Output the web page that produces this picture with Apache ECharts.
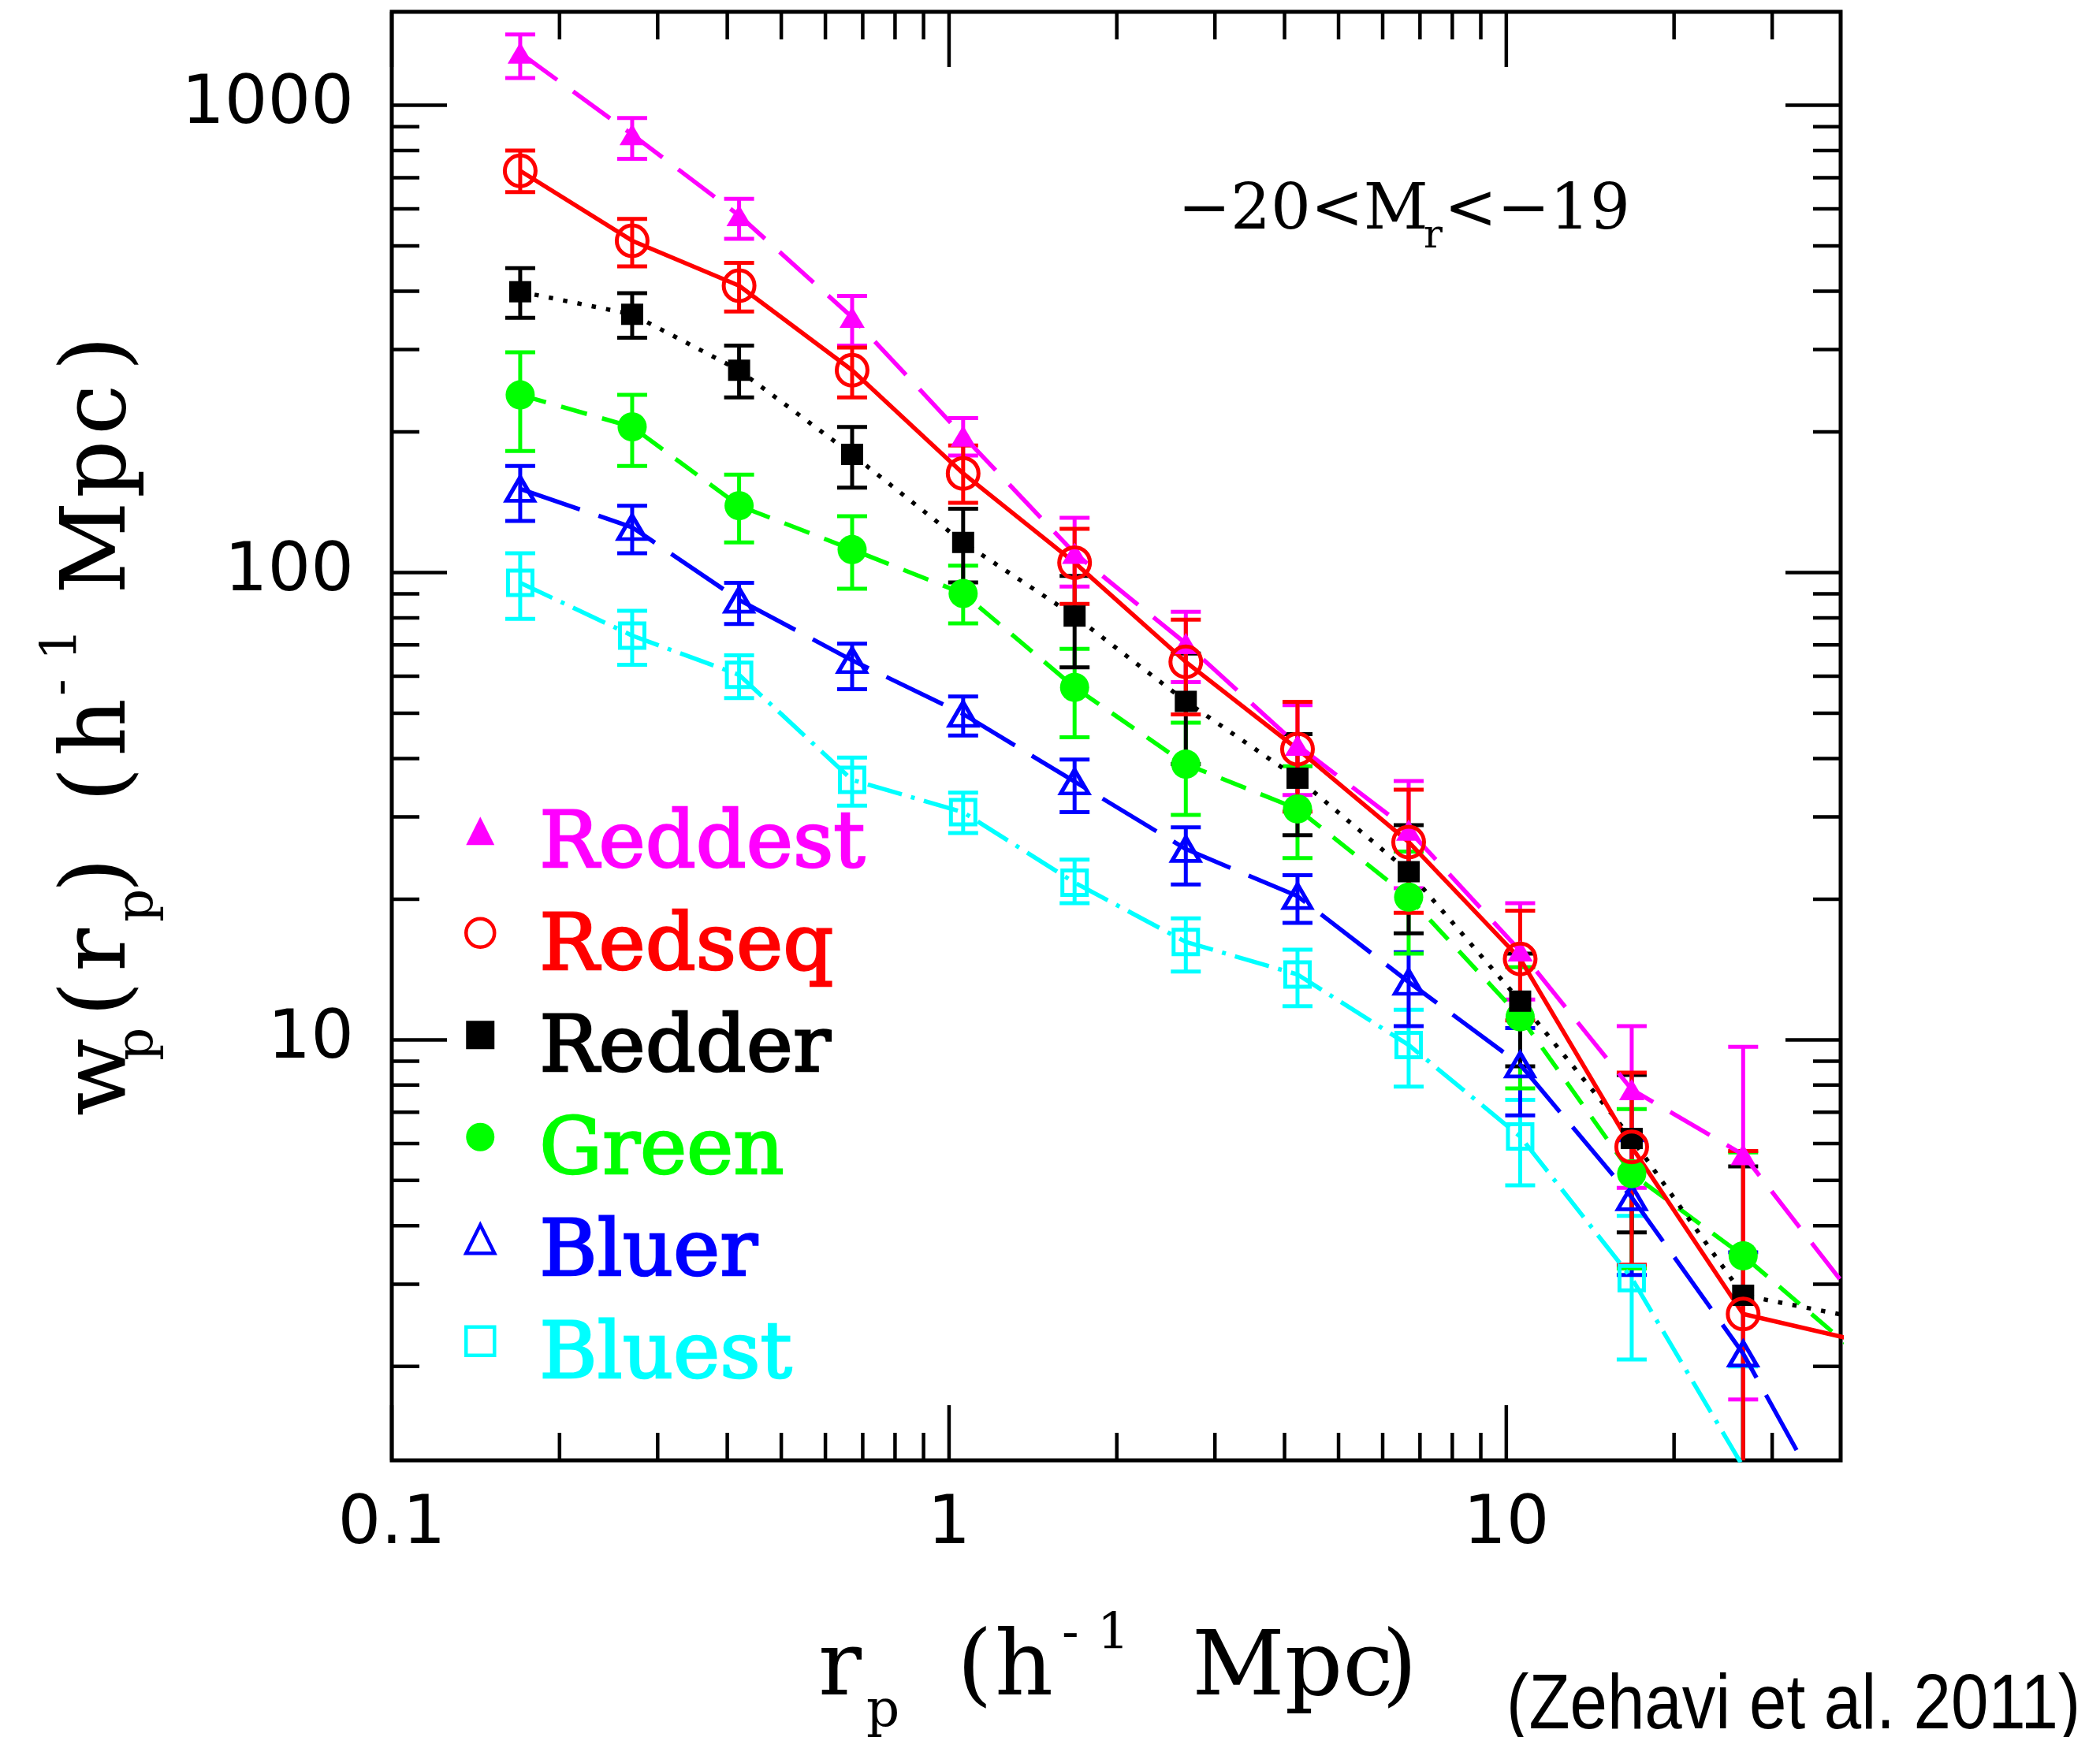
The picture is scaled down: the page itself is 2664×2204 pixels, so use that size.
<!DOCTYPE html>
<html><head><meta charset="utf-8">
<script src="https://cdn.jsdelivr.net/npm/echarts@6/dist/echarts.min.js"></script>
<style>html,body{margin:0;padding:0;background:#fff}#c{width:2664px;height:2204px}</style>
</head><body><div id="c"></div>
<script>
// ---------------- data ----------------
const rp = [0.17, 0.27, 0.42, 0.67, 1.06, 1.68, 2.66, 4.22, 6.68, 10.59, 16.79, 26.61, 42.17];

const reddest   = [1294, 866, 581, 352, 196, 110, 70.5, 42.7, 28.1, 15.5, 7.83, 5.68, 2.8];
const reddestHi = [1417, 939, 631, 391, 214, 131, 82.4, 52, 35.8, 19.6, 10.7, 9.66, null];
const reddestLo = [1144, 768, 518, 306, 178, 93.3, 58.3, 33.4, 21.1, 12.2, 4.82, 1.70, null];

const redseq   = [724, 513, 411, 271, 163, 105, 64.4, 41.9, 26.5, 14.9, 5.90, 2.59, 2.28];
const redseqHi = [800, 571, 460, 303, 187, 124, 79.3, 52.9, 34.3, 18.9, 8.51, 5.78, null];
const redseqLo = [652, 452, 362, 237, 141, 85.7, 49.7, 30.8, 18.7, 11.0, 3.30, 0.5, null];

const redder   = [399, 357, 271, 179, 116, 80.7, 53.0, 36.3, 22.9, 12.1, 6.15, 2.84, 2.55];
const redderHi = [448, 396, 306, 205, 137, 98.4, 67.1, 45.1, 28.8, 15.3, 8.41, 5.36, null];
const redderLo = [351, 318, 237, 152, 95.3, 62.7, 38.9, 27.4, 16.9, 8.78, 3.87, 0.4, null];

const green   = [240, 205, 139, 112, 90.2, 56.8, 38.9, 31.2, 20.2, 11.2, 5.17, 3.45, 2.16];
const greenHi = [296, 240, 162, 132, 103.5, 68.7, 47.7, 38.5, 25.3, 14.3, 7.11, 5.74, null];
const greenLo = [182, 169, 116, 92.3, 77.8, 44.4, 30.3, 24.5, 15.3, 7.87, 3.24, 1.1, null];

const bluer   = [151, 125, 87.4, 64.9, 49.8, 35.7, 25.6, 20.3, 13.3, 8.85, 4.6, 2.13, 0.79];
const bluerHi = [169, 139, 95.1, 70.4, 54.3, 39.8, 28.5, 22.5, 15.4, 10.6, 6.1, 3.51, null];
const bluerLo = [129, 110, 77.6, 56.3, 44.8, 30.7, 21.5, 17.8, 10.7, 6.89, 3.14, 0.8, null];

const bluest   = [95.1, 73.3, 60.4, 36.0, 30.7, 21.7, 16.2, 13.8, 9.75, 6.21, 3.09, 1.22];
const bluestHi = [110, 82.8, 66.5, 40.2, 33.8, 24.3, 18.2, 15.6, 11.6, 7.44, 4.20, 2.0];
const bluestLo = [79.6, 63.5, 53.9, 31.7, 27.7, 19.6, 14.0, 11.8, 7.94, 4.88, 2.07, 0.6];

const legendNames = ['Reddest', 'Redseq', 'Redder', 'Green', 'Bluer', 'Bluest'];
const xTickLabels = [0.1, 1, 10];
const yTickLabels = [10, 100, 1000];
const xMinorTicks = [0.2, 0.3, 0.4, 0.5, 0.6, 0.7, 0.8, 0.9, 2, 3, 4, 5, 6, 7, 8, 9, 20, 30];
const yMinorTicks = [2, 3, 4, 5, 6, 7, 8, 9, 20, 30, 40, 50, 60, 70, 80, 90, 200, 300, 400, 500, 600, 700, 800, 900];

const X_MIN = 0.1, X_MAX = Math.pow(10, 1.6);
const Y_MIN = Math.pow(10, 0.1), Y_MAX = Math.pow(10, 3.2);

// ---------------- helpers ----------------
const SERIF = '"DejaVu Serif"';
function pairs(xs, ys) { const out = []; ys.forEach((v, i) => { if (v != null) out.push([xs[i], v]); }); return out; }
function errData(xs, lo, hi) { const out = []; xs.forEach((x, i) => { if (lo[i] != null && hi[i] != null) out.push([x, lo[i], hi[i]]); }); return out; }

function errSeries(name, lo, hi, color) {
  return {
    type: 'custom', name: name + ' err', coordinateSystem: 'cartesian2d', silent: true,
    encode: { x: 0, y: [1, 2] },
    data: errData(rp, lo, hi),
    renderItem: function (params, api) {
      const x = api.value(0), l = api.value(1), h = api.value(2);
      const pl = api.coord([x, l]), ph = api.coord([x, h]);
      const cs = params.coordSys;
      const top = cs.y, bot = cs.y + cs.height;
      if (pl[0] < cs.x || pl[0] > cs.x + cs.width) return;
      const st = { stroke: color, lineWidth: 5 };
      const y1 = Math.max(ph[1], top), y2 = Math.min(pl[1], bot);
      const ch = [{ type: 'line', shape: { x1: pl[0], y1: y1, x2: pl[0], y2: y2 }, style: st }];
      const cw = 19;
      if (ph[1] >= top) ch.push({ type: 'line', shape: { x1: pl[0] - cw, y1: ph[1], x2: pl[0] + cw, y2: ph[1] }, style: st });
      if (pl[1] <= bot) ch.push({ type: 'line', shape: { x1: pl[0] - cw, y1: pl[1], x2: pl[0] + cw, y2: pl[1] }, style: st });
      return { type: 'group', children: ch };
    }
  };
}

function lineSeries(name, vals, color, dash, symbol, size, hollow) {
  return {
    type: 'line', name: name, data: pairs(rp, vals), clip: true, silent: true,
    showSymbol: true, showAllSymbol: true, symbol: symbol, symbolSize: size,
    lineStyle: { color: color, width: 5.5, type: dash },
    itemStyle: hollow ? { color: 'rgba(0,0,0,0)', borderColor: color, borderWidth: 5 }
                      : { color: color, borderWidth: 0 },
    emphasis: { disabled: true }
  };
}

// tick data through the axes' scales
const tickData = [];
xTickLabels.forEach(v => tickData.push([v, Y_MIN, 1, 0]));
xMinorTicks.forEach(v => tickData.push([v, Y_MIN, 0, 0]));
yTickLabels.forEach(v => tickData.push([X_MIN, v, 1, 1]));
yMinorTicks.forEach(v => tickData.push([X_MIN, v, 0, 1]));

const tickSeries = {
  type: 'custom', name: 'ticks', coordinateSystem: 'cartesian2d', silent: true, z: 10,
  encode: { x: 0, y: 1 }, data: tickData,
  renderItem: function (params, api) {
    const cs = params.coordSys;
    const major = api.value(2), axis = api.value(3);
    const len = major ? 70 : 35;
    const st = { stroke: '#000', lineWidth: 4.5 };
    if (axis === 0) {
      const px = api.coord([api.value(0), Y_MIN])[0];
      return { type: 'group', children: [
        { type: 'line', shape: { x1: px, y1: cs.y + cs.height, x2: px, y2: cs.y + cs.height - len }, style: st },
        { type: 'line', shape: { x1: px, y1: cs.y, x2: px, y2: cs.y + len }, style: st }
      ] };
    }
    const py = api.coord([X_MIN, api.value(1)])[1];
    return { type: 'group', children: [
      { type: 'line', shape: { x1: cs.x, y1: py, x2: cs.x + len, y2: py }, style: st },
      { type: 'line', shape: { x1: cs.x + cs.width, y1: py, x2: cs.x + cs.width - len, y2: py }, style: st }
    ] };
  }
};

function fmt(list) { return function (v) { const r = Number(Number(v).toPrecision(6)); return list.indexOf(r) >= 0 ? String(r) : ''; }; }

function txt(text, x, y, size, family, extra) {
  return Object.assign({ type: 'text', x: x, y: y, z: 50, silent: true,
    style: { text: text, fill: '#000', font: size + 'px ' + family, align: 'left', verticalAlign: 'middle' } }, extra || {});
}
const ROT = { rotation: Math.PI / 2 };

const COL = { reddest: '#ff00ff', redseq: '#ff0000', redder: '#000000', green: '#00ff00', bluer: '#0000ff', bluest: '#00ffff' };
const legendIcons = [
  { icon: 'triangle', itemStyle: { color: COL.reddest, borderWidth: 0 }, c: COL.reddest },
  { icon: 'circle', itemStyle: { color: 'rgba(0,0,0,0)', borderColor: COL.redseq, borderWidth: 4.5 }, c: COL.redseq },
  { icon: 'rect', itemStyle: { color: COL.redder, borderWidth: 0 }, c: COL.redder },
  { icon: 'circle', itemStyle: { color: COL.green, borderWidth: 0 }, c: COL.green },
  { icon: 'triangle', itemStyle: { color: 'rgba(0,0,0,0)', borderColor: COL.bluer, borderWidth: 4.5 }, c: COL.bluer },
  { icon: 'rect', itemStyle: { color: 'rgba(0,0,0,0)', borderColor: COL.bluest, borderWidth: 4.5 }, c: COL.bluest }
];

// axis titles: [text, pos along, size kind]
const M = 115, S = 66, P = 64;
const yTitle = [
  ['w', 1416, 'm'], ['p', 1346, 's'], ['(', 1290, 'm'], ['r', 1233, 'm'], ['p', 1170, 's'], [')', 1133, 'm'],
  ['(', 1018, 'm'], ['h', 960, 'm'], ['-', 883, 'u'], ['1', 838, 'u'], ['M', 754, 'm'], ['p', 632, 'm'], ['c', 552, 'm'], [')', 471, 'm']
];
const xTitle = [
  ['r', 1038, 'm'], ['p', 1099, 's'], ['(', 1214, 'm'], ['h', 1262, 'm'], ['-', 1347, 'u'], ['1', 1392, 'u'],
  ['Mpc', 1512, 'm'], [')', 1753, 'm']
];
const sizeOf = { m: M, s: S, u: P };
const yTitleX = { m: 128.5, s: 176, u: 80 };
const xTitleY = { m: 2120.5, s: 2173, u: 2075 };

const graphics = [
  txt('\u221220<M', 1494, 269.6, 80, SERIF),
  txt('r', 1806, 301.5, 50, SERIF),
  txt('<\u221219', 1832, 269.6, 80, SERIF),
  txt('(Zehavi et al. 2011)', 1911, 2166, 98, '"Liberation Sans"', { scaleX: 0.87 })
];
yTitle.forEach(p => graphics.push(txt(p[0], yTitleX[p[2]], p[1], sizeOf[p[2]], SERIF, ROT)));
xTitle.forEach(p => graphics.push(txt(p[0], p[1], xTitleY[p[2]], sizeOf[p[2]], SERIF)));

const option = {
  animation: false,
  backgroundColor: '#fff',
  grid: { left: 497, top: 15, right: 329, bottom: 351, show: true, borderColor: '#000', borderWidth: 5, backgroundColor: 'rgba(0,0,0,0)' },
  xAxis: { type: 'log', logBase: 10, min: X_MIN, max: X_MAX,
    axisLine: { show: false }, axisTick: { show: false }, splitLine: { show: false }, minorTick: { show: false },
    axisLabel: { formatter: fmt(xTickLabels), fontFamily: '"DejaVu Sans"', fontSize: 86, color: '#000', margin: 40 } },
  yAxis: { type: 'log', logBase: 10, min: Y_MIN, max: Y_MAX,
    axisLine: { show: false }, axisTick: { show: false }, splitLine: { show: false }, minorTick: { show: false },
    axisLabel: { formatter: fmt(yTickLabels), fontFamily: '"DejaVu Sans"', fontSize: 86, color: '#000', margin: 48 } },
  legend: {
    orient: 'vertical', left: 589, top: 1023, padding: 0, itemWidth: 36, itemHeight: 36, itemGap: 27,
    selectedMode: false,
    formatter: function (name) { return '{t|' + name + '}'; },
    textStyle: { fontFamily: SERIF, fontSize: 100,
      rich: { t: { fontFamily: SERIF, fontSize: 100, padding: [40, 0, 0, 52] } } },
    data: legendNames.map((n, i) => ({ name: n, icon: legendIcons[i].icon, itemStyle: legendIcons[i].itemStyle,
      textStyle: { color: legendIcons[i].c, textBorderColor: legendIcons[i].c, textBorderWidth: 2.5 } }))
  },
  graphic: graphics,
  series: [
    errSeries('Bluest', bluestLo, bluestHi, COL.bluest),
    lineSeries('Bluest', bluest, COL.bluest, [45, 12, 5, 12], 'rect', [31, 31], true),
    errSeries('Bluer', bluerLo, bluerHi, COL.bluer),
    lineSeries('Bluer', bluer, COL.bluer, [80, 25], 'triangle', [35, 30], true),
    errSeries('Green', greenLo, greenHi, COL.green),
    lineSeries('Green', green, COL.green, [34, 20], 'circle', 37, false),
    errSeries('Redder', redderLo, redderHi, COL.redder),
    lineSeries('Redder', redder, COL.redder, [5.5, 13], 'rect', [28, 27], false),
    errSeries('Reddest', reddestLo, reddestHi, COL.reddest),
    lineSeries('Reddest', reddest, COL.reddest, [58, 25], 'triangle', [32, 27], false),
    errSeries('Redseq', redseqLo, redseqHi, COL.redseq),
    lineSeries('Redseq', redseq, COL.redseq, 'solid', 'circle', 39, true),
    tickSeries
  ]
};

const chart = echarts.init(document.getElementById('c'), null, { renderer: 'canvas' });
chart.setOption(option);
</script>
</body></html>
